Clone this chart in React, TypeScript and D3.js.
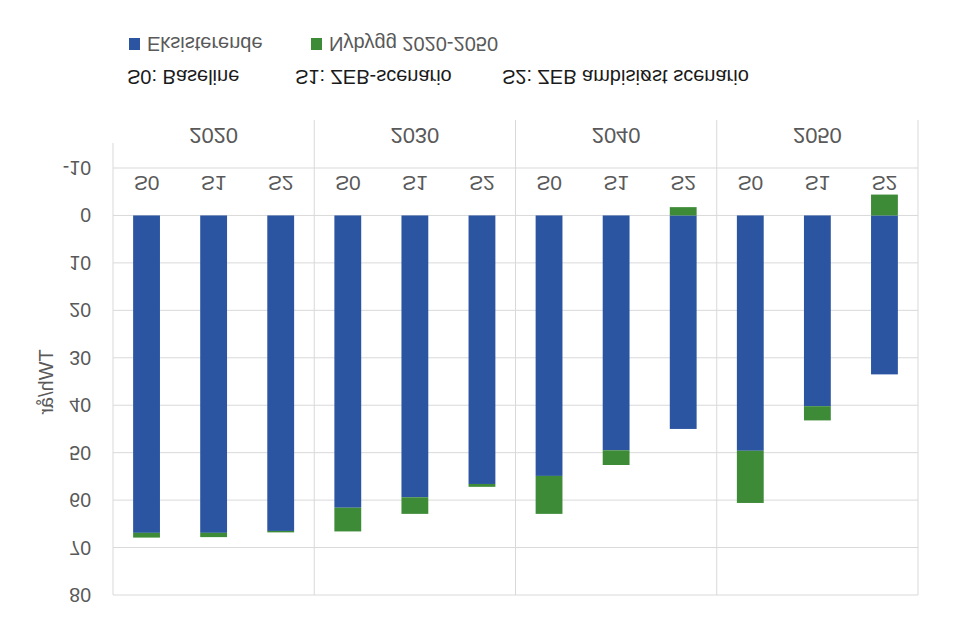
import * as d3 from "d3";

// categories
const YEARS = ["2020", "2030", "2040", "2050"];
const SCENARIOS = ["S0", "S1", "S2"];

// TWh/år per year x scenario (row order: 2020 S0..S2, 2030 S0..S2, ...)
const EXISTING = [66.9, 66.9, 66.5, 61.6, 59.4, 56.6, 54.9, 49.5, 45.0, 49.6, 40.2, 33.5];
const NEW_BUILD = [1.0, 0.9, 0.3, 5.0, 3.5, 0.6, 8.0, 3.1, -1.75, 11.0, 3.0, -4.4];

const Y_TICKS = [-10, 0, 10, 20, 30, 40, 50, 60, 70, 80];

const SERIES = ["Eksisterende", "Nybygg 2020-2050"];
const COLORS = ["#2B55A1", "#3D8B37"];
const SCENARIO_NOTES = ["S0: Baseline", "S1: ZEB-scenario", "S2: ZEB ambisiøst scenario"];

const W = 958;
const H = 640;
const FONT = "'Liberation Sans', Arial, sans-serif";

export default function App() {
  // chart is drawn in normal orientation, then the whole thing is mirrored vertically
  const left = 113;
  const right = 918;
  const plotTop = 45;

  const y = d3.scaleLinear().domain([-10, 80]).range([472, plotTop]);
  const xYear = d3.scaleBand().domain(YEARS).range([left, right]);
  const xScen = d3
    .scaleBand()
    .domain(SCENARIOS)
    .range([0, xYear.bandwidth()])
    .paddingInner(0.6)
    .paddingOuter(0.3);

  const rows = YEARS.flatMap((yr, i) =>
    SCENARIOS.map((s, j) => ({
      year: yr,
      scen: s,
      Eksisterende: EXISTING[i * 3 + j],
      "Nybygg 2020-2050": NEW_BUILD[i * 3 + j],
    })),
  );

  const stacked = d3
    .stack<any>()
    .keys(SERIES)
    .offset(d3.stackOffsetDiverging)(rows);

  const yearLabelY = 505;
  const scenLabelY = 457;
  const boxTop = 520;

  return (
    <svg
      width={W}
      height={H}
      style={{ position: "absolute", left: 0, top: 0, background: "#fff" }}
      fontFamily={FONT}
    >
      <rect width={W} height={H} fill="#fff" />
      <g transform={`translate(0,${H}) scale(1,-1)`}>
        {/* gridlines */}
        {Y_TICKS.map((t) => (
          <line
            key={t}
            x1={left}
            x2={right}
            y1={y(t)}
            y2={y(t)}
            stroke="#d9d9d9"
            strokeWidth={1}
          />
        ))}
        {/* category dividers */}
        <line x1={left} x2={left} y1={plotTop} y2={497} stroke="#d9d9d9" />
        {YEARS.map((yr) => (
          <line
            key={yr}
            x1={(xYear(yr) ?? 0) + xYear.bandwidth()}
            x2={(xYear(yr) ?? 0) + xYear.bandwidth()}
            y1={plotTop}
            y2={boxTop}
            stroke="#d9d9d9"
          />
        ))}

        {/* bars */}
        {stacked.map((layer, k) => (
          <g key={layer.key} fill={COLORS[k]}>
            {layer.map((d, i) => {
              const r = rows[i];
              const x = (xYear(r.year) ?? 0) + (xScen(r.scen) ?? 0);
              const y0 = y(d[0]);
              const y1 = y(d[1]);
              return (
                <rect
                  key={i}
                  x={x}
                  y={Math.min(y0, y1)}
                  width={xScen.bandwidth()}
                  height={Math.abs(y1 - y0)}
                />
              );
            })}
          </g>
        ))}

        {/* y ticks */}
        {Y_TICKS.map((t) => (
          <text
            key={t}
            x={91}
            y={y(t)}
            textAnchor="end"
            dominantBaseline="central"
            fontSize={19.5}
            fill="#595959"
          >
            {t}
          </text>
        ))}

        {/* y title */}
        <text
          transform={`translate(46,258) rotate(-90)`}
          textAnchor="middle"
          dominantBaseline="central"
          fontSize={20}
          fill="#595959"
        >
          TWh/år
        </text>

        {/* category labels */}
        {YEARS.map((yr) =>
          SCENARIOS.map((s) => (
            <text
              key={yr + s}
              x={(xYear(yr) ?? 0) + (xScen(s) ?? 0) + xScen.bandwidth() / 2}
              y={scenLabelY}
              textAnchor="middle"
              dominantBaseline="central"
              fontSize={21}
              fill="#595959"
            >
              {s}
            </text>
          )),
        )}
        {YEARS.map((yr) => (
          <text
            key={yr}
            x={(xYear(yr) ?? 0) + xYear.bandwidth() / 2}
            y={yearLabelY}
            textAnchor="middle"
            dominantBaseline="central"
            fontSize={22}
            fill="#595959"
          >
            {yr}
          </text>
        ))}

        {/* legend */}
        {SERIES.map((s, i) => {
          const lx = [129, 311][i];
          return (
            <g key={s}>
              <rect x={lx} y={590} width={11} height={12} fill={COLORS[i]} />
              <text
                x={lx + 18}
                y={596}
                dominantBaseline="central"
                fontSize={20}
                fill="#595959"
              >
                {s}
              </text>
            </g>
          );
        })}
        {SCENARIO_NOTES.map((s, i) => (
          <text
            key={s}
            x={[127, 295, 502][i]}
            y={563}
            dominantBaseline="central"
            fontSize={20}
            fill="#1a1a1a"
          >
            {s}
          </text>
        ))}
      </g>
    </svg>
  );
}
